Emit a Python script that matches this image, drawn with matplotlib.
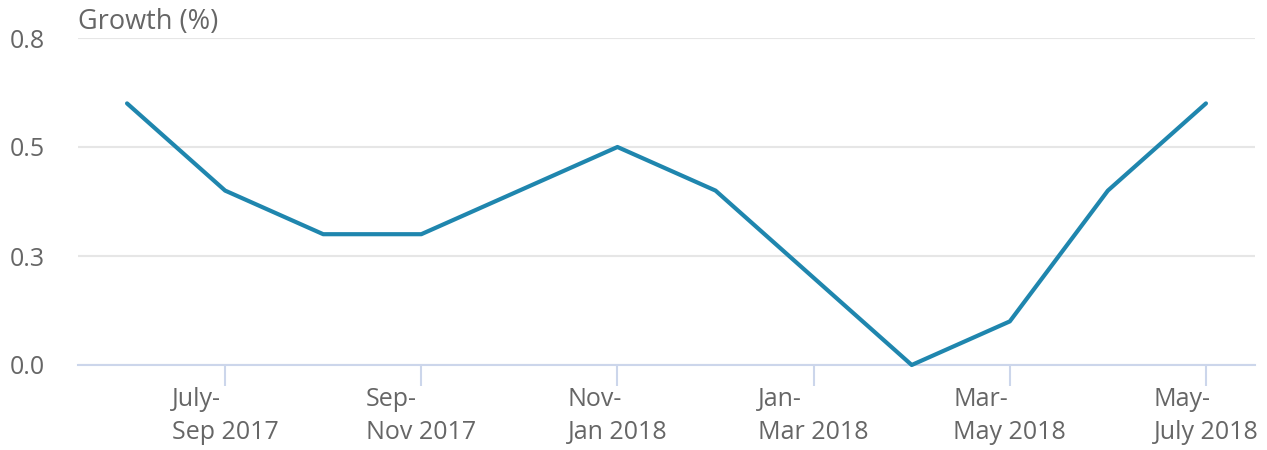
import numpy as np
import matplotlib.pyplot as plt
from matplotlib.ticker import FixedLocator, FuncFormatter

plt.rcParams['font.family'] = ['Open Sans', 'DejaVu Sans']

# three-month rolling periods
periods = ['June-\nAug 2017', 'July-\nSep 2017', 'Aug-\nOct 2017', 'Sep-\nNov 2017',
           'Oct-\nDec 2017', 'Nov-\nJan 2018', 'Dec-\nFeb 2018', 'Jan-\nMar 2018',
           'Feb-\nApr 2018', 'Mar-\nMay 2018', 'Apr-\nJune 2018', 'May-\nJuly 2018']
growth = [0.6, 0.4, 0.3, 0.3, 0.4, 0.5, 0.4, 0.2, 0.0, 0.1, 0.4, 0.6]
yticks = [0.0, 0.25, 0.5, 0.75]

text_col = '#666666'
fig = plt.figure(figsize=(12.67, 4.5), dpi=100)
ax = fig.add_axes([78/1267, 85/450, 1177/1267, 327/450])

x = np.arange(len(periods))
ax.plot(x, growth, color='#1f86ae', lw=3, solid_joinstyle='round',
        solid_capstyle='round', zorder=3, clip_on=False)

ax.set_xlim(-0.5, len(periods) - 0.5)
ax.set_ylim(0, 0.75)
ax.yaxis.set_major_locator(FixedLocator(yticks))
# round half up like the original (0.25 -> 0.3)
ax.yaxis.set_major_formatter(FuncFormatter(lambda v, p: format(v + 1e-9, '.1f')))
ax.grid(axis='y', color='#e6e6e6', lw=1.5)
ax.set_axisbelow(True)

shown = x[1::2]
ax.set_xticks(shown)
ax.set_xticklabels([periods[i] for i in shown], ha='center', multialignment='left',
                   linespacing=1.4)

for s in ['top', 'right', 'left']:
    ax.spines[s].set_visible(False)
ax.spines['bottom'].set_color('#ccd6eb')
ax.spines['bottom'].set_linewidth(1.5)

ax.tick_params(axis='x', length=15, width=1.5, color='#ccd6eb', labelcolor=text_col,
               labelsize=18, pad=1)
ax.tick_params(axis='y', length=0, labelcolor=text_col, labelsize=18, pad=24)

fig.text(78/1267, 1 - 8/450, 'Growth (%)', ha='left', va='top', color=text_col, fontsize=19.5)

fig.savefig('out.png', dpi=100)
